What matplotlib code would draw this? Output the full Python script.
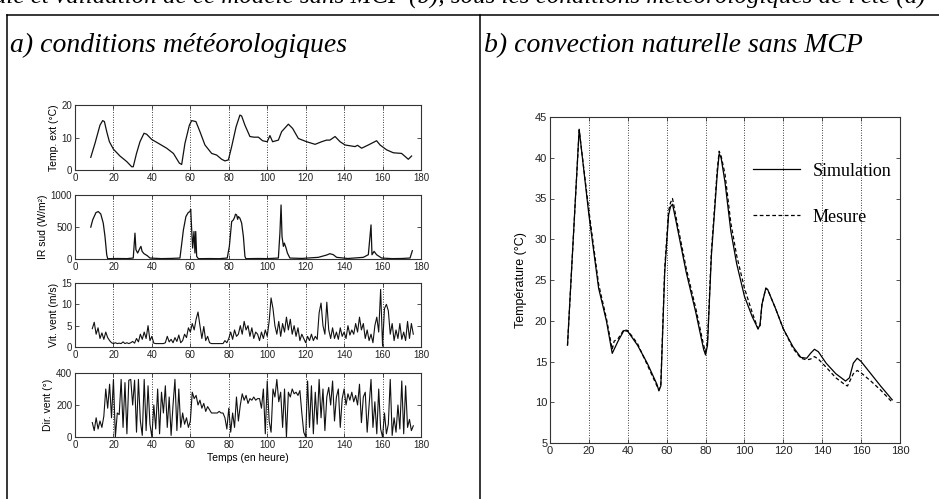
import matplotlib
matplotlib.use('Agg')
import matplotlib.pyplot as plt
from matplotlib.lines import Line2D
import numpy as np

# ---- a) conditions meteo ----
# temperature exterieure (heure, degC)
t_text = [8.2, 10.4, 13, 14.4, 15.3, 16.5, 17.9, 20, 23.4, 26.9, 29.5, 30.3, 32, 33.8, 35.9, 37.3,
          39.9, 43.4, 47.7, 51.2, 54.3, 55.5, 57.2, 59.5, 60.7, 62.9, 65, 67.6, 71.1, 73.7, 76.3,
          78, 79.8, 81.5, 83.8, 85.8, 86.7, 88.4, 91, 93.1, 95.4, 97.6, 100, 101.4, 102.8, 105.8,
          107.5, 111, 113.2, 116.2, 120.5, 124.9, 128.3, 130.9, 132.6, 135.3, 137.9, 140.5,
          145.7, 147, 149.1, 152.6, 156.9, 158.7, 162.1, 165.6, 169.9, 173.4, 175.1]
temp_ext = [3.9, 8.2, 13.8, 15.2, 14.9, 11.8, 8.7, 6.4, 4.3, 2.6, 1.0, 1.0, 5.1, 8.7, 11.3, 11.0,
            9.4, 8.2, 6.7, 5.1, 2.1, 1.7, 8.2, 13.8, 15.2, 14.9, 11.8, 7.7, 5.1, 4.6, 3.3,
            2.8, 3.1, 7.2, 13.3, 16.9, 16.6, 13.8, 10.3, 10.1, 10.1, 9.0, 8.7, 10.6, 8.7, 9.2,
            11.8, 14.1, 12.8, 9.7, 8.7, 7.9, 8.7, 9.2, 9.2, 10.3, 8.7, 7.7,
            7.2, 7.6, 6.7, 7.7, 9.0, 7.7, 6.2, 5.3, 5.1, 3.3, 4.3]

# rayonnement sud (W/m2)
t_ir = [8.2, 9.2, 10.9, 12.1, 13.4, 14.7, 15.6, 16.5, 17, 22, 27, 30.3, 31.2, 31.7, 32.6, 33.8,
        34.3, 34.9, 35.9, 37.6, 39, 45, 50, 54.6, 56.4, 57.7, 58.9, 59.8, 60.2, 60.7, 61.2,
        61.9, 62.4, 62.8, 63.3, 64.2, 70, 75, 79.2, 80.3, 81.5, 82.4, 83, 83.5, 84.1, 84.6,
        85, 85.8, 86.7, 87.6, 88.4, 88.9, 95, 100, 105.8, 106.6, 107.2, 107.7, 108.4, 108.9,
        109.8, 110.5, 111.8, 118, 126.6, 130.9, 132.6, 134.4, 136.1, 142, 150, 152.6, 154,
        154.5, 155.6, 156.9, 159.5, 165, 170, 174.3, 175.5]
ir_sud = [497, 611, 725, 741, 704, 560, 352, 67, 5, 8, 6, 15, 404, 145, 93, 171,
          197, 120, 83, 52, 15, 6, 9, 15, 456, 663, 725, 741, 777, 456, 171,
          430, 93, 430, 41, 5, 7, 5, 15, 197, 585, 611, 650, 700, 689, 620,
          663, 637, 560, 352, 41, 5, 8, 6, 15, 404, 844, 352, 197, 249,
          171, 93, 15, 9, 26, 62, 83, 67, 26, 8, 26, 67, 533,
          67, 119, 67, 15, 6, 8, 15, 130]

# vitesse du vent (m/s), pas horaire depuis t=9
vit_vent = [4.3, 5.8, 3.0, 4.5, 2.0, 3.3, 1.8, 3.5, 2.2, 1.5, 1.0, 0.8, 1.0, 0.8, 0.9, 0.8,
            1.2, 0.8, 1.0, 0.8, 1.0, 1.3, 0.9, 2.0, 1.2, 3.0, 1.8, 3.5, 2.0, 5.0, 1.5, 2.5,
            0.9, 0.8, 0.8, 0.8, 0.8, 0.8, 1.0, 2.5, 1.2, 1.8, 1.0, 2.2, 1.3, 2.8, 1.0, 1.5,
            3.0, 2.2, 4.5, 3.5, 5.5, 4.0, 6.5, 8.2, 5.0, 2.0, 4.8, 1.5, 2.5, 1.0, 0.8, 0.8,
            0.8, 0.8, 0.8, 0.8, 0.8, 1.5, 1.0, 2.0, 3.5, 1.8, 4.0, 2.5, 3.0, 5.0, 3.0, 6.0,
            4.0, 5.0, 2.5, 4.5, 2.0, 3.5, 3.0, 1.5, 3.5, 2.0, 4.0, 2.5, 6.0, 11.5, 9.0, 5.0,
            3.0, 6.0, 2.5, 5.5, 3.5, 7.0, 4.0, 6.5, 3.0, 5.0, 2.5, 4.5, 1.5, 3.0, 2.0, 1.0,
            2.5, 1.5, 3.0, 1.5, 2.5, 1.8, 8.0, 10.3, 5.0, 3.0, 10.5, 4.0, 2.0, 4.5, 2.0, 3.5,
            1.8, 4.5, 2.5, 3.5, 2.0, 5.0, 2.8, 4.0, 3.0, 5.5, 3.5, 7.0, 4.0, 5.5, 2.0, 4.0,
            1.5, 3.0, 1.0, 5.0, 7.0, 3.5, 13.5, 0.2, 9.0, 10.0, 8.5, 3.0, 5.5, 1.5, 4.0, 2.0,
            5.5, 1.8, 3.5, 1.5, 6.0, 2.0, 5.5, 3.0]

# direction du vent (deg), pas horaire depuis t=9
dir_vent = [90, 40, 120, 50, 100, 60, 130, 300, 180, 330, 120, 360, 0, 150, 140, 360,
            60, 340, 20, 355, 360, 200, 355, 30, 360, 100, 10, 360, 40, 320, 80, 0,
            200, 50, 300, 20, 280, 150, 320, 60, 250, 10, 200, 360, 40, 300, 60, 150,
            80, 120, 60, 100, 280, 240, 260, 200, 230, 180, 210, 160, 190, 170, 150, 150,
            150, 150, 160, 150, 150, 120, 50, 180, 30, 150, 60, 250, 100, 200, 270, 230,
            260, 210, 240, 230, 250, 230, 240, 240, 180, 300, 20, 350, 100, 30, 300, 250,
            360, 220, 280, 60, 300, 0, 280, 250, 300, 270, 280, 260, 290, 150, 30, 0,
            350, 60, 320, 20, 280, 80, 360, 120, 300, 40, 250, 310, 200, 350, 100, 250,
            300, 60, 240, 300, 200, 270, 230, 280, 220, 260, 200, 330, 90, 250, 280, 30,
            200, 360, 60, 220, 20, 300, 50, 0, 150, 20, 80, 360, 10, 120, 30, 200,
            50, 350, 20, 320, 60, 110, 40, 70]

t_vit = np.arange(9, 9 + len(vit_vent))
t_dir = np.arange(9, 9 + len(dir_vent))

# ---- b) convection naturelle sans MCP ----
t_sim = [9, 15, 20, 25, 29, 32, 35, 38, 40, 45, 50, 55, 56, 57, 59, 61, 62, 63, 65, 70, 75, 79,
         80, 81, 83, 86, 87, 88, 90, 93, 96, 100, 104, 107, 108, 109, 111, 112, 116, 120, 125,
         129, 132, 134, 136, 138, 142, 147, 152, 154, 156, 158, 160, 165, 170, 176]
T_sim = [17, 43.5, 33, 24, 20, 16, 17.5, 18.8, 18.7, 17, 14.8, 12.2, 11.4, 12, 26, 33, 34, 34.3,
         32, 26, 21, 16.5, 15.8, 17, 28, 38, 40.5, 40, 37, 31, 27, 23, 20.5, 19, 19.5, 22, 24,
         23.8, 21.5, 19, 16.8, 15.5, 15.4, 16, 16.5, 16.2, 14.8, 13.5, 12.6, 13, 14.8, 15.4, 15,
         13.5, 12, 10.3]
t_mes = [9, 15, 20, 25, 29, 32, 33, 35, 38, 40, 45, 50, 55, 56, 57, 59, 61, 62, 63, 65, 70, 75,
         79, 80, 81, 83, 86, 87, 88, 90, 93, 96, 100, 104, 107, 108, 109, 111, 112, 116, 120,
         125, 129, 132, 134, 136, 138, 142, 147, 152, 153, 156, 158, 160, 165, 170, 176]
T_mes = [17, 43.4, 33.5, 24.5, 20.3, 16.5, 17.5, 17.8, 18.9, 18.8, 17.2, 14.6, 12, 11.5, 12.2,
         26.5, 33.5, 34.5, 35, 32.5, 26.5, 21.5, 17, 16.2, 17.5, 28.5, 38.5, 40.8, 40.2, 38, 32,
         28, 24, 21, 19, 19.3, 22, 24, 23.8, 21.5, 19, 16.6, 15.4, 15.2, 15.3, 15.6, 15.3,
         14.3, 13, 12.1, 12, 13.5, 13.9, 13.6, 12.6, 11.5, 10]

W, H = 939, 499
fig = plt.figure(figsize=(W / 100, H / 100), dpi=100)

sans = ['Liberation Sans Narrow', 'Liberation Sans', 'DejaVu Sans']
serif = ['Liberation Serif', 'DejaVu Serif']
frame_col = '#333333'


def box(l, t, w, h):
    # pixel -> fraction de figure
    return [l / W, 1 - (t + h) / H, w / W, h / H]


def style(ax, fs):
    ax.set_xlim(0, 180)
    ax.set_xticks(range(0, 181, 20))
    ax.tick_params(direction='in', top=True, right=True, length=3, width=0.6,
                   labelsize=fs, pad=2, colors=frame_col, labelcolor='#222222')
    for s in ax.spines.values():
        s.set_color(frame_col); s.set_linewidth(0.8)
    for lab in ax.get_xticklabels() + ax.get_yticklabels():
        lab.set_family(sans)
    for x in range(20, 180, 20):
        ax.axvline(x, color='black', linestyle=(0, (1, 2)), linewidth=0.6, zorder=0)


lc = '#111111'
ax1 = fig.add_axes(box(75, 105, 346, 65))
ax1.plot(t_text, temp_ext, color=lc, lw=0.9)
ax1.set_ylim(0, 20); ax1.set_yticks([0, 10, 20])
style(ax1, 7)
ax1.set_ylabel('Temp. ext (°C)', fontsize=7.5, family=sans, labelpad=2)

ax2 = fig.add_axes(box(75, 195, 346, 64))
ax2.plot(t_ir, ir_sud, color=lc, lw=0.9)
ax2.set_ylim(0, 1000); ax2.set_yticks([0, 500, 1000])
style(ax2, 7)
ax2.set_ylabel('IR sud (W/m²)', fontsize=7.5, family=sans, labelpad=2)

ax3 = fig.add_axes(box(75, 283, 346, 64))
ax3.plot(t_vit, vit_vent, color=lc, lw=0.8)
ax3.set_ylim(0, 15); ax3.set_yticks([0, 5, 10, 15])
style(ax3, 7)
ax3.set_ylabel('Vit. vent (m/s)', fontsize=7.5, family=sans, labelpad=2)

ax4 = fig.add_axes(box(75, 373, 346, 64))
ax4.plot(t_dir, dir_vent, color=lc, lw=0.8)
ax4.set_ylim(0, 400); ax4.set_yticks([0, 200, 400])
style(ax4, 7)
ax4.set_ylabel('Dir. vent (°)', fontsize=7.5, family=sans, labelpad=2)
ax4.set_xlabel('Temps (en heure)', fontsize=7.5, family=sans, labelpad=2)

axb = fig.add_axes(box(550, 117, 350, 326))
axb.plot(t_sim, T_sim, color='black', lw=0.9, label='Simulation')
axb.plot(t_mes, T_mes, color='black', lw=0.9, linestyle=(0, (3, 2)), label='Mesure')
axb.set_ylim(5, 45); axb.set_yticks(range(5, 46, 5))
style(axb, 8)
axb.set_ylabel('Température (°C)', fontsize=9, family=sans, labelpad=6)
axb.legend(loc='upper left', bbox_to_anchor=(0.58, 0.86), frameon=False,
           prop={'family': serif, 'size': 13}, handlelength=2.6, handletextpad=0.7,
           labelspacing=1.6, borderpad=0, borderaxespad=0)

# cadre du tableau et titres
fig.add_artist(Line2D([7 / W, 1], [1 - 15 / H, 1 - 15 / H], color='black', lw=1.1))
fig.add_artist(Line2D([7 / W, 7 / W], [0, 1 - 15 / H], color='black', lw=1.1))
fig.add_artist(Line2D([480 / W, 480 / W], [0, 1 - 15 / H], color='black', lw=1.1))

fig.text(10 / W, 1 - 52 / H, 'a) conditions météorologiques', family=serif, style='italic',
         fontsize=20, va='baseline')
fig.text(484 / W, 1 - 52 / H, 'b) convection naturelle sans MCP', family=serif, style='italic',
         fontsize=20, va='baseline')
# ligne de texte du document, coupee en haut comme sur le scan
fig.text(926 / W, 1 - 4 / H,
         'de la cellule et validation de ce modèle sans MCP (b), sous les conditions météorologiques de l\'été (a)',
         family=serif, style='italic', fontsize=18, va='baseline', ha='right')

fig.savefig('out.png', dpi=100)
